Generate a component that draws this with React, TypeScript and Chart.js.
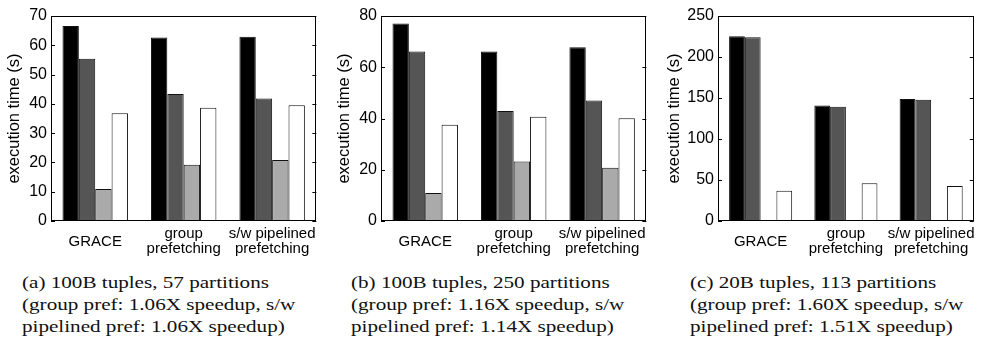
import React, { useEffect, useRef } from "react";
import { Chart, registerables } from "chart.js";
Chart.register(...registerables);

// Categories (x tick labels, multi-line)
const categories = [["GRACE"], ["group", "prefetching"], ["s/w pipelined", "prefetching"]];

// Bar fill colours for the four series (no legend in source)
const seriesColors = ["#000000", "#555555", "#aaaaaa", "#ffffff"];

// Panel (a): 100B tuples, 57 partitions
const aSeries1 = [66.6, 62.7, 62.9];
const aSeries2 = [55.4, 43.4, 41.8];
const aSeries3 = [10.9, 19.2, 20.8];
const aSeries4 = [36.8, 38.7, 39.5];
const aTicks = { max: 70, step: 10 };

// Panel (b): 100B tuples, 250 partitions
const bSeries1 = [77.1, 66.1, 67.8];
const bSeries2 = [66.1, 42.9, 47.0];
const bSeries3 = [10.9, 23.2, 20.8];
const bSeries4 = [37.6, 40.7, 40.1];
const bTicks = { max: 80, step: 20 };

// Panel (c): 20B tuples, 113 partitions
const cSeries1 = [225.2, 141.0, 148.8];
const cSeries2 = [224.0, 139.4, 148.0];
const cSeries3 = [1.0, 1.0, 1.0];
const cSeries4 = [37.0, 45.9, 42.7];
const cTicks = { max: 250, step: 50 };

const captionA = ["(a) 100B tuples, 57 partitions", "(group pref: 1.06X speedup, s/w", "pipelined pref: 1.06X speedup)"];
const captionB = ["(b) 100B tuples, 250 partitions", "(group pref: 1.16X speedup, s/w", "pipelined pref: 1.14X speedup)"];
const captionC = ["(c) 20B tuples, 113 partitions", "(group pref: 1.60X speedup, s/w", "pipelined pref: 1.51X speedup)"];

const AXIS_FONT = "'Liberation Sans', Arial, sans-serif";

const framePlugin = {
  id: "frame",
  afterDatasetsDraw(chart: any) {
    const { ctx, chartArea } = chart;
    const { left, right, top, bottom } = chartArea;
    const y = chart.scales.y;
    ctx.save();
    ctx.strokeStyle = "#000";
    ctx.lineWidth = 1;
    ctx.strokeRect(Math.round(left) + 0.5, Math.round(top) + 0.5, Math.round(right - left) - 1, Math.round(bottom - top) - 1);
    ctx.beginPath();
    y.ticks.forEach((t: any) => {
      const py = Math.round(y.getPixelForValue(t.value)) + 0.5;
      ctx.moveTo(left, py);
      ctx.lineTo(left + 4, py);
      ctx.moveTo(right - 4, py);
      ctx.lineTo(right, py);
    });
    ctx.stroke();
    ctx.restore();
  },
};

type PanelProps = {
  series: number[][];
  ticks: { max: number; step: number };
  width: number;
  yAxisWidth: number;
  padRight: number;
};

function Panel({ series, ticks, width, yAxisWidth, padRight }: PanelProps) {
  const ref = useRef<HTMLCanvasElement | null>(null);
  useEffect(() => {
    if (!ref.current) return;
    const chart = new Chart(ref.current, {
      type: "bar",
      data: {
        labels: categories as any,
        datasets: series.map((s, i) => ({
          data: s,
          backgroundColor: seriesColors[i],
          borderColor: "#111111",
          borderWidth: 1,
          categoryPercentage: 0.74,
          barPercentage: 1.0,
        })),
      },
      options: {
        animation: false,
        responsive: false,
        devicePixelRatio: 1,
        layout: { padding: { top: 16, right: padRight, left: 0, bottom: 0 } },
        plugins: { legend: { display: false }, tooltip: { enabled: false }, title: { display: false } },
        scales: {
          x: {
            grid: { display: false, drawTicks: false },
            border: { display: false },
            ticks: {
              color: "#000",
              font: { family: AXIS_FONT, size: 15, lineHeight: 1.0 },
              padding: 13,
              maxRotation: 0,
              autoSkip: false,
              crossAlign: "center" as any,
            },
            afterFit: (scale: any) => {
              scale.height = 41;
            },
          },
          y: {
            min: 0,
            max: ticks.max,
            grid: { display: false, drawTicks: false },
            border: { display: false },
            ticks: {
              stepSize: ticks.step,
              color: "#000",
              font: { family: AXIS_FONT, size: 16 },
              padding: 4,
            },
            title: {
              display: true,
              text: "execution time (s)",
              color: "#000",
              font: { family: AXIS_FONT, size: 16.5 },
              padding: { top: 5, bottom: 0 },
            },
            afterFit: (scale: any) => {
              scale.width = yAxisWidth;
            },
          },
        },
      },
      plugins: [framePlugin],
    });
    return () => chart.destroy();
  }, []);
  return <canvas ref={ref} width={width} height={262} style={{ display: "block", width, height: 262 }} />;
}

function Caption({ lines, left }: { lines: string[]; left: number }) {
  return (
    <div
      style={{
        position: "absolute",
        left,
        top: 272,
        fontFamily: "'Liberation Serif', 'Times New Roman', serif",
        fontSize: 16,
        lineHeight: "22px",
        color: "#111",
        whiteSpace: "nowrap",
        transform: "scaleX(1.32)",
        transformOrigin: "left top",
      }}
    >
      {lines.map((l, i) => (
        <div key={i}>{l}</div>
      ))}
    </div>
  );
}

export default function App() {
  return (
    <div style={{ position: "absolute", left: 0, top: 0, width: 988, height: 346, background: "#fff", overflow: "hidden" }}>
      <div style={{ position: "absolute", left: 0, top: 0 }}>
        <Panel series={[aSeries1, aSeries2, aSeries3, aSeries4]} ticks={aTicks} width={330} yAxisWidth={51} padRight={9} />
      </div>
      <div style={{ position: "absolute", left: 330, top: 0 }}>
        <Panel series={[bSeries1, bSeries2, bSeries3, bSeries4]} ticks={bTicks} width={330} yAxisWidth={51} padRight={9} />
      </div>
      <div style={{ position: "absolute", left: 660, top: 0 }}>
        <Panel series={[cSeries1, cSeries2, cSeries3, cSeries4]} ticks={cTicks} width={328} yAxisWidth={58} padRight={3} />
      </div>
      <Caption lines={captionA} left={22} />
      <Caption lines={captionB} left={351} />
      <Caption lines={captionC} left={690} />
    </div>
  );
}
